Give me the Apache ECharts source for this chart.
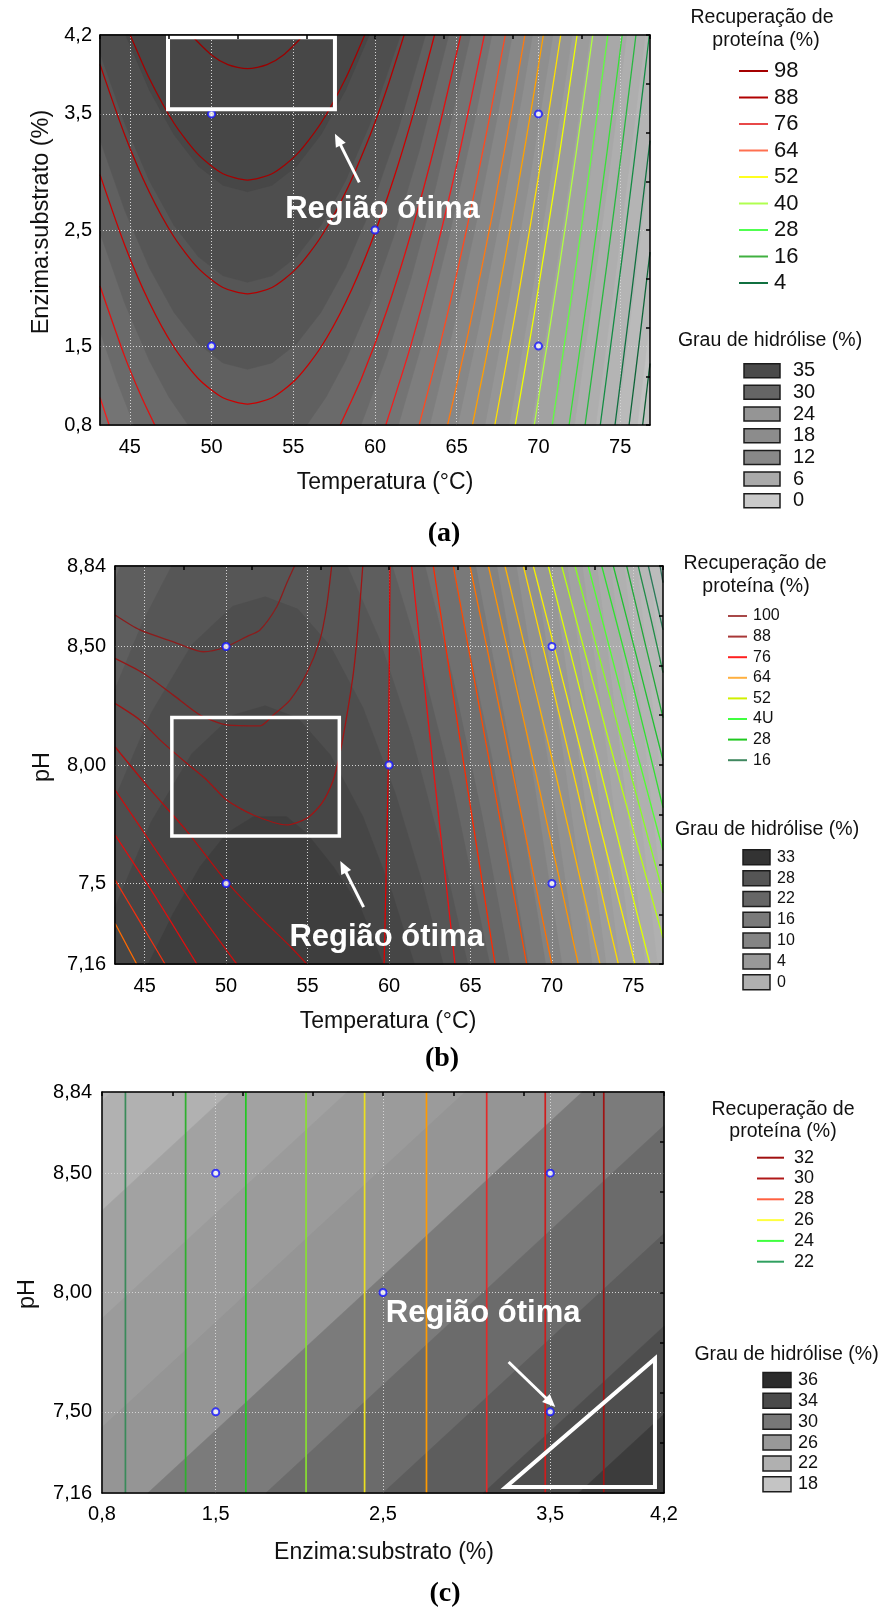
<!DOCTYPE html>
<html>
<head>
<meta charset="utf-8">
<script src="https://cdn.jsdelivr.net/npm/echarts@6/dist/echarts.min.js"></script>
<style>
  html, body { margin: 0; padding: 0; background: #fff; }
  #chart { width: 886px; height: 1621px; }
</style>
</head>
<body>
<div id="chart"></div>
<script>
// ================= DATA =================
// Axis ranges (coded levels ±1.68 of the central composite design)
const tempRange = [43.18, 76.82];
const esRange = [0.82, 4.18];
const phRange = [7.16, 8.84];

// Tick labels
const tempTicks = [45, 50, 55, 60, 65, 70, 75];
const tempTickText = ['45', '50', '55', '60', '65', '70', '75'];
const esTicks = [0.82, 1.5, 2.5, 3.5, 4.18];
const esTickText = ['0,8', '1,5', '2,5', '3,5', '4,2'];
const phTicks = [7.16, 7.5, 8.0, 8.5, 8.84];
const phTickTextB = ['7,16', '7,5', '8,00', '8,50', '8,84'];
const phTickTextC = ['7,16', '7,50', '8,00', '8,50', '8,84'];

// Grid line values
const tempGrid = [45, 50, 55, 60, 65, 70, 75];
const esGrid = [1.5, 2.5, 3.5];
const phGrid = [7.5, 8.0, 8.5];

// Experimental design points
const designA = [[50, 3.5], [70, 3.5], [60, 2.5], [50, 1.5], [70, 1.5]];
const designB = [[50, 8.5], [70, 8.5], [60, 8.0], [50, 7.5], [70, 7.5]];
const designC = [[1.5, 8.5], [3.5, 8.5], [2.5, 8.0], [1.5, 7.5], [3.5, 7.5]];

// Legend levels
const recLevelsA = ['98', '88', '76', '64', '52', '40', '28', '16', '4'];
const hydLevelsA = ['35', '30', '24', '18', '12', '6', '0'];
const recLevelsB = ['100', '88', '76', '64', '52', '4U', '28', '16'];
const hydLevelsB = ['33', '28', '22', '16', '10', '4', '0'];
const recLevelsC = ['32', '30', '28', '26', '24', '22'];
const hydLevelsC = ['36', '34', '30', '26', '22', '18'];

// (a) Protein recovery contours: [Temperatura, Enzima:substrato]
const recPiecesA = [
  [[48.75,4.18],[50.0,4.008],[51.0,3.925],[52.2,3.89],[53.4,3.925],[54.4,4.008],[55.65,4.18]],
  [[45.03,4.18],[46.2,3.805],[47.7,3.422],[49.2,3.149],[50.7,2.985],[52.2,2.93],[53.7,2.985],[55.2,3.149],[56.7,3.422],[58.2,3.805],[59.37,4.18]],
  [[43.18,3.927],[44.7,3.317],[46.2,2.825],[47.7,2.442],[49.2,2.169],[50.7,2.005],[52.2,1.95],[53.7,2.005],[55.2,2.169],[56.7,2.442],[58.2,2.825],[59.7,3.317],[60.7,3.706],[61.78,4.18]],
  [[43.18,2.977],[44.7,2.367],[46.2,1.875],[47.7,1.492],[49.2,1.219],[50.7,1.055],[52.2,1.0],[53.7,1.055],[55.2,1.219],[56.7,1.492],[58.2,1.875],[59.7,2.367],[61.2,2.968],[62.5,3.578],[63.64,4.18]],
  [[43.18,2.017],[44.7,1.407],[45.7,1.067],[46.53,0.82]],
  [[57.87,0.82],[59.2,1.231],[60.7,1.796],[62.2,2.47],[63.7,3.254],[65.25,4.18]],
  [[43.18,1.057],[43.74,0.82]],
  [[60.66,0.82],[62.2,1.51],[63.7,2.294],[65.2,3.187],[66.69,4.18]],
  [[62.7,0.82],[64.2,1.639],[65.7,2.569],[67.0,3.463],[67.97,4.18]],
  [[64.44,0.82],[65.7,1.609],[67.2,2.648],[68.4,3.557],[69.17,4.18]],
  [[65.96,0.82],[67.2,1.688],[68.7,2.836],[69.7,3.66],[70.3,4.18]],
  [[67.33,0.82],[68.7,1.876],[70.2,3.133],[71.36,4.18]],
  [[68.58,0.82],[69.7,1.742],[71.2,3.072],[72.36,4.18]],
  [[69.74,0.82],[71.2,2.112],[72.3,3.16],[73.32,4.18]],
  [[70.84,0.82],[72.2,2.1],[73.3,3.2],[74.24,4.18]],
  [[71.87,0.82],[73.2,2.136],[74.2,3.18],[75.12,4.18]],
  [[72.85,0.82],[74.2,2.221],[75.1,3.2],[75.96,4.18]],
  [[73.78,0.82],[75.2,2.355],[76.0,3.26],[76.78,4.18]],
  [[74.68,0.82],[75.7,1.96],[76.82,3.27]],
  [[75.54,0.82],[76.2,1.577],[76.82,2.31]],
  [[76.37,0.82],[76.82,1.35]]
];
const recLevelOfPieceA = [0,1,2,3,4,4,5,5,6,7,8,9,10,11,12,13,14,15,16,17,18];

// (a) Degree of hydrolysis band boundaries (inner to outer)
const hydBoundsA = [
  [[44.75,4.18],[46.2,3.705],[47.7,3.322],[49.2,3.049],[50.7,2.885],[52.2,2.83],[53.7,2.885],[55.2,3.049],[56.7,3.322],[58.2,3.705],[59.65,4.18]],
  [[43.18,4.027],[44.7,3.417],[46.2,2.925],[47.7,2.542],[49.2,2.269],[50.7,2.105],[52.2,2.05],[53.7,2.105],[55.2,2.269],[56.7,2.542],[58.2,2.925],[59.7,3.417],[61.56,4.18]],
  [[43.18,3.277],[44.7,2.667],[46.2,2.175],[47.7,1.792],[49.2,1.519],[50.7,1.355],[52.2,1.3],[53.7,1.355],[55.2,1.519],[56.7,1.792],[58.2,2.175],[59.7,2.667],[61.4,3.357],[63.09,4.18]],
  [[43.18,2.477],[44.7,1.867],[46.2,1.375],[47.4,1.06],[48.57,0.82],[55.83,0.82],[57.0,1.06],[58.2,1.375],[59.7,1.867],[61.2,2.468],[62.7,3.179],[64.51,4.18]],
  [[43.18,1.627],[44.2,1.205],[45.26,0.82],[59.14,0.82],[60.7,1.406],[62.2,2.08],[63.7,2.864],[65.85,4.18]],
  [[61.43,0.82],[63.0,1.584],[64.5,2.426],[66.0,3.378],[67.15,4.18]],
  [[63.35,0.82],[64.8,1.658],[66.3,2.631],[67.4,3.414],[68.4,4.18]],
  [[65.06,0.82],[66.4,1.7],[67.8,2.714],[69.0,3.658],[69.63,4.18]],
  [[66.72,0.82],[68.2,1.921],[69.5,2.973],[70.88,4.18]],
  [[68.2,0.82],[69.6,1.957],[70.9,3.098],[72.06,4.18]],
  [[69.56,0.82],[70.9,2.0],[72.1,3.123],[73.16,4.18]],
  [[70.92,0.82],[72.2,2.02],[73.4,3.222],[74.31,4.18]],
  [[72.2,0.82],[73.4,2.022],[74.5,3.184],[75.4,4.18]],
  [[73.5,0.82],[74.7,2.102],[75.7,3.22],[76.53,4.18]],
  [[74.81,0.82],[75.9,2.05],[76.82,3.13]],
  [[76.05,0.82],[76.82,1.73]]
];

// (b) Protein recovery contours: [Temperatura, pH]
const recPiecesB = [
  [[43.18,8.633],[44.71,8.57],[46.76,8.52],[48.6,8.478],[49.93,8.497],[51.27,8.542],[52.08,8.57],[53.11,8.668],[53.72,8.767],[54.2,8.84]],
  [[43.18,8.45],[44.92,8.387],[46.76,8.295],[48.4,8.211],[50.04,8.169],[52.08,8.165],[52.9,8.211],[53.92,8.274],[54.95,8.387],[55.76,8.528],[56.17,8.668],[56.48,8.84]],
  [[43.18,8.26],[44.71,8.19],[45.94,8.106],[47.58,8.007],[48.81,7.937],[50.04,7.852],[51.67,7.789],[53.72,7.747],[54.95,7.775],[55.87,7.838],[56.58,7.937],[56.99,8.049],[57.4,8.204],[57.81,8.387],[58.12,8.598],[58.39,8.84]],
  [[43.18,8.077],[45.3,7.9],[47.6,7.72],[50.0,7.51],[52.2,7.35],[54.0,7.23],[54.95,7.16]],
  [[43.18,7.895],[45.5,7.66],[48.0,7.41],[50.65,7.16]],
  [[43.18,7.705],[45.53,7.458],[48.2,7.16]],
  [[43.18,7.515],[44.7,7.34],[46.25,7.16]],
  [[43.18,7.332],[44.51,7.16]],
  [[60.06,8.84],[59.96,8.0],[59.7,7.16]],
  [[61.39,8.84],[62.7,8.0],[64.05,7.16]],
  [[62.72,8.84],[64.6,8.0],[66.51,7.16]],
  [[63.95,8.84],[66.2,8.0],[68.45,7.16]],
  [[64.97,8.84],[67.5,8.0],[69.99,7.16]],
  [[66.1,8.84],[68.9,8.0],[71.62,7.16]],
  [[67.12,8.84],[70.1,8.0],[72.95,7.16]],
  [[68.25,8.84],[71.2,8.0],[74.08,7.16]],
  [[68.86,8.84],[72.0,8.0],[75.1,7.16]],
  [[69.78,8.84],[72.9,8.0],[76.02,7.16]],
  [[70.6,8.84],[73.9,8.0],[76.82,7.27]],
  [[71.42,8.84],[74.3,8.1],[76.82,7.46]],
  [[72.23,8.84],[74.5,8.24],[76.82,7.64]],
  [[73.06,8.84],[75.0,8.33],[76.82,7.82]],
  [[73.77,8.84],[75.3,8.43],[76.82,8.02]],
  [[74.59,8.84],[75.7,8.52],[76.82,8.2]],
  [[75.3,8.84],[76.1,8.61],[76.82,8.39]],
  [[75.92,8.84],[76.82,8.57]],
  [[76.64,8.84],[76.82,8.77]]
];

// (b) Degree of hydrolysis band boundaries (inner to outer)
const hydBoundsB = [
  [[45.22,7.16],[46.76,7.374],[48.4,7.571],[50.04,7.712],[51.67,7.782],[53.72,7.782],[54.95,7.712],[56.58,7.571],[58.22,7.402],[59.65,7.16]],
  [[43.18,7.4],[45.4,7.76],[47.9,8.048],[50.4,8.21],[52.4,8.25],[54.4,8.198],[56.4,8.042],[58.4,7.782],[60.2,7.459],[61.56,7.16]],
  [[43.18,7.86],[45.4,8.22],[47.9,8.508],[50.4,8.67],[52.4,8.71],[54.4,8.658],[56.4,8.502],[58.4,8.242],[60.4,7.878],[61.9,7.537],[63.32,7.16]],
  [[43.18,8.32],[44.9,8.607],[46.66,8.84],[57.44,8.84],[59.4,8.533],[61.4,8.117],[63.4,7.597],[64.83,7.16]],
  [[43.18,8.78],[43.51,8.84],[60.2,8.84],[61.9,8.457],[63.9,7.911],[66.18,7.16]],
  [[62.21,8.84],[63.9,8.371],[65.7,7.79],[67.41,7.16]],
  [[63.87,8.84],[66.3,8.038],[67.5,7.586],[68.55,7.16]],
  [[65.32,8.84],[67.5,8.046],[69.61,7.16]],
  [[66.62,8.84],[68.7,8.016],[70.61,7.16]],
  [[67.82,8.84],[69.8,7.994],[71.56,7.16]],
  [[68.93,8.84],[70.8,7.989],[72.46,7.16]],
  [[69.96,8.84],[71.7,8.008],[73.32,7.16]],
  [[70.94,8.84],[72.6,8.0],[74.15,7.16]],
  [[71.87,8.84],[73.45,8.01],[74.95,7.16]],
  [[72.76,8.84],[74.3,7.995],[75.72,7.16]],
  [[73.61,8.84],[75.1,7.99],[76.47,7.16]],
  [[74.43,8.84],[75.7,8.09],[76.82,7.4]],
  [[75.22,8.84],[76.82,7.86]],
  [[75.98,8.84],[76.82,8.32]]
];

// (c) Protein recovery: Enzima:substrato value of each (vertical) contour
const recPosC = [0.96, 1.32, 1.68, 2.04, 2.39, 2.76, 3.12, 3.47, 3.82];

// (c) Degree of hydrolysis band boundaries: [Enzima:substrato, pH] (inner to outer)
const hydBoundsC = [
  [[3.67,7.16],[4.18,7.49]],
  [[3.1,7.16],[4.18,7.859]],
  [[2.5,7.16],[4.18,8.247]],
  [[1.8,7.16],[4.18,8.7]],
  [[1.094,7.16],[3.691,8.84]],
  [[0.82,7.435],[2.991,8.84]],
  [[0.82,7.891],[2.287,8.84]],
  [[0.82,8.344],[1.587,8.84]],
  [[0.82,8.803],[0.877,8.84]]
];

// ================= STYLE =================
const FONT = '"Liberation Sans", Arial, sans-serif';
const NARROW = '"Liberation Sans Narrow", "Liberation Sans", Arial, sans-serif';

const recColorsA = ['#9a0000','#a50000','#b40000','#cc0000','#e21010','#f41c1c','#ff4a20','#ff7a10','#ffa000',
  '#ffe000','#f0ff00','#b0ff40','#60ff40','#38e038','#28b840','#148c44','#107040','#0e6438','#0c5a32'];
const recColorsB = ['#8c1c1c','#941818','#a01414','#b41010','#c81010','#dc1010','#f03010','#ff6a00',
  '#e00000','#f01010','#ff2a00','#ff4a00','#ff7000','#ff9400','#ffb400','#ffd800','#f8f000','#e0ff00',
  '#b8ff10','#88ff20','#50ff30','#30e030','#20c030','#20a838','#208c48','#2a7a58','#306a58'];
const recColorsC = ['#3a8a5a','#2eb02e','#22c822','#88e030','#ece020','#ff9a00','#e42a2a','#d01c1c','#a01414'];

const hydShadesA = ['#474747','#4e4e4e','#565656','#606060','#6a6a6a','#747474','#7e7e7e','#878787','#8f8f8f',
  '#969696','#9c9c9c','#a2a2a2','#a8a8a8','#aeaeae','#b4b4b4','#bababa'];
const hydBaseA = '#c2c2c2';
const hydShadesB = ['#3e3e3e','#464646','#4e4e4e','#565656','#5e5e5e','#676767','#707070','#797979','#828282',
  '#8a8a8a','#919191','#979797','#9d9d9d','#a2a2a2','#a7a7a7','#acacac','#b0b0b0','#b4b4b4','#b8b8b8'];
const hydBaseB = '#bcbcbc';
const hydShadesC = ['#3c3c3c','#4e4e4e','#5d5d5d','#6b6b6b','#7b7b7b','#959595','#9b9b9b','#a2a2a2','#b1b1b1'];
const hydBaseC = '#b9b9b9';

const legRecColorsA = ['#a50000','#b00000','#e84848','#ff7050','#ffff20','#b0ff50','#50ff50','#40b040','#107040'];
const legHydColorsA = ['#4a4a4a','#656565','#959595','#8c8c8c','#888888','#aaaaaa','#cacaca'];
const legRecColorsB = ['#a84848','#a83838','#ff2020','#ffb040','#d0f000','#40ff40','#20c820','#408860'];
const legHydColorsB = ['#333333','#555555','#666666','#7a7a7a','#848484','#999999','#b0b0b0'];
const legRecColorsC = ['#a01010','#b01818','#ff6040','#ffff40','#40ff40','#30a060'];
const legHydColorsC = ['#2b2b2b','#4a4a4a','#777777','#999999','#b0b0b0','#c4c4c4'];

// Annotation geometry (data units)
const annotA = { shape: [[47.34,3.54],[57.55,3.54],[57.55,4.16],[47.34,4.16]], arrow: [[59.04,2.91],[57.55,3.33]], label: [60.46,2.68], lw: 4 };
const annotB = { shape: [[46.67,7.70],[56.95,7.70],[56.95,8.20],[46.67,8.20]], arrow: [[58.44,7.40],[57.01,7.595]], label: [59.86,7.27], lw: 3.5 };
const annotC = { shape: [[3.235,7.185],[4.126,7.185],[4.126,7.723]], arrow: [[3.251,7.709],[3.53,7.52]], label: [3.099,7.912], lw: 4 };

// ================= BUILD =================
const chart = echarts.init(document.getElementById('chart'), null, { renderer: 'canvas', width: 886, height: 1621 });

const EXT = [
  { x0: tempRange[0], x1: tempRange[1], y0: esRange[0], y1: esRange[1] },
  { x0: tempRange[0], x1: tempRange[1], y0: phRange[0], y1: phRange[1] },
  { x0: esRange[0], x1: esRange[1], y0: phRange[0], y1: phRange[1] }
];

// Position of a border point along the plot frame, clockwise from the top-left corner
function perimPos(p, e) {
  const tol = 1e-6, w = e.x1 - e.x0, h = e.y1 - e.y0;
  if (Math.abs(p[1] - e.y1) < tol) return (p[0] - e.x0) / w;
  if (Math.abs(p[0] - e.x1) < tol) return 1 + (e.y1 - p[1]) / h;
  if (Math.abs(p[1] - e.y0) < tol) return 2 + (e.x1 - p[0]) / w;
  return 3 + (p[1] - e.y0) / h;
}
// Close a boundary curve into a region by walking the frame from its end back to its start
function closeRegion(pts, e, dir) {
  const corners = [[e.x0, e.y1], [e.x1, e.y1], [e.x1, e.y0], [e.x0, e.y0]];
  const s = perimPos(pts[pts.length - 1], e);
  let t = perimPos(pts[0], e);
  const out = pts.slice();
  if (dir === 'cw') {
    if (t <= s) t += 4;
    for (let c = Math.floor(s) + 1; c < t; c++) out.push(corners[c % 4]);
  } else {
    if (t >= s) t -= 4;
    for (let c = Math.ceil(s) - 1; c > t; c--) out.push(corners[((c % 4) + 4) % 4]);
  }
  return out;
}

// Filled bands: base colour, then nested regions from the outermost to the innermost
function bandSeries(gi, bounds, shades, base, dir) {
  const e = EXT[gi];
  const polys = [[[e.x0, e.y0], [e.x1, e.y0], [e.x1, e.y1], [e.x0, e.y1]]];
  const fills = [base];
  for (let i = bounds.length - 1; i >= 0; i--) {
    polys.push(closeRegion(bounds[i], e, dir));
    fills.push(shades[i]);
  }
  return {
    type: 'custom', xAxisIndex: gi, yAxisIndex: gi, z: 1, silent: true, animation: false,
    data: polys.map(() => [e.x0, e.y0]), encode: { x: 0, y: 1 },
    renderItem: (params, api) => ({
      type: 'polygon', z2: params.dataIndex,
      shape: { points: polys[params.dataIndex].map(p => api.coord(p)) },
      style: { fill: fills[params.dataIndex], stroke: fills[params.dataIndex], lineWidth: 0.5 }
    })
  };
}

function gridSeries(gi, xs, ys) {
  const e = EXT[gi];
  const segs = xs.map(x => ({ coords: [[x, e.y0], [x, e.y1]] }))
    .concat(ys.map(y => ({ coords: [[e.x0, y], [e.x1, y]] })));
  return {
    type: 'lines', coordinateSystem: 'cartesian2d', xAxisIndex: gi, yAxisIndex: gi,
    z: 2, silent: true, animation: false, data: segs,
    lineStyle: { color: '#d4d4d4', width: 1, type: [1, 2], opacity: 1, curveness: 0 }
  };
}

function contourSeries(gi, pts, color, width) {
  return {
    type: 'line', xAxisIndex: gi, yAxisIndex: gi, data: pts, showSymbol: false, symbol: 'none',
    smooth: 0.25, clip: true, silent: true, animation: false, z: 3,
    lineStyle: { color: color, width: width || 1.3 }
  };
}

function dotSeries(gi, pts) {
  return {
    type: 'scatter', xAxisIndex: gi, yAxisIndex: gi, data: pts, symbol: 'circle', symbolSize: 7,
    itemStyle: { color: '#ffffff', borderColor: '#1414ff', borderWidth: 2 }, z: 5, silent: true, animation: false
  };
}

function annotSeries(gi, an) {
  return {
    type: 'custom', xAxisIndex: gi, yAxisIndex: gi, z: 6, silent: true, animation: false,
    data: [an.label], encode: { x: 0, y: 1 },
    renderItem: (params, api) => {
      const shape = an.shape.map(p => api.coord(p));
      const a0 = api.coord(an.arrow[0]), a1 = api.coord(an.arrow[1]);
      const dx = a1[0] - a0[0], dy = a1[1] - a0[1], L = Math.hypot(dx, dy);
      const ux = dx / L, uy = dy / L, hl = 13, hw = 5.5;
      const b = [a1[0] - ux * hl, a1[1] - uy * hl];
      const head = [a1, [b[0] - uy * hw, b[1] + ux * hw], [b[0] + uy * hw, b[1] - ux * hw]];
      const lp = api.coord(an.label);
      return {
        type: 'group', children: [
          { type: 'polygon', shape: { points: shape }, style: { fill: 'none', stroke: '#ffffff', lineWidth: an.lw, lineJoin: 'miter' } },
          { type: 'line', shape: { x1: a0[0], y1: a0[1], x2: b[0] + ux, y2: b[1] + uy }, style: { stroke: '#ffffff', lineWidth: 3 } },
          { type: 'polygon', shape: { points: head }, style: { fill: '#ffffff' } },
          { type: 'text', style: { text: 'Região ótima', x: lp[0], y: lp[1], fill: '#ffffff',
              font: 'bold 31px ' + FONT, align: 'center', verticalAlign: 'middle',
              textAlign: 'center', textVerticalAlign: 'middle' } }
        ]
      };
    }
  };
}

function fmt(ticks, texts) {
  return v => {
    for (let i = 0; i < ticks.length; i++) if (Math.abs(ticks[i] - v) < 1e-6) return texts[i];
    return '';
  };
}
const frameLine = { show: true, onZero: false, lineStyle: { color: '#000', width: 1.5 } };
function mainX(gi, ticks, texts, margin) {
  const e = EXT[gi];
  return { type: 'value', gridIndex: gi, min: e.x0, max: e.x1, position: 'bottom', z: 10,
    axisLine: frameLine, axisTick: { show: false }, splitLine: { show: false },
    axisLabel: { customValues: ticks, formatter: fmt(ticks, texts), color: '#000', fontSize: 20,
      fontFamily: FONT, margin: margin, hideOverlap: false } };
}
function mainY(gi, ticks, texts, margin) {
  const e = EXT[gi];
  return { type: 'value', gridIndex: gi, min: e.y0, max: e.y1, position: 'left', z: 10,
    axisLine: frameLine, axisTick: { show: false }, splitLine: { show: false },
    axisLabel: { customValues: ticks, formatter: fmt(ticks, texts), color: '#000', fontSize: 20,
      fontFamily: FONT, margin: margin, hideOverlap: false } };
}
function topX(gi) {
  const e = EXT[gi];
  return { type: 'value', gridIndex: gi, min: e.x0, max: e.x1, interval: (e.x1 - e.x0) / 8, position: 'top', z: 10,
    axisLine: frameLine, axisTick: { show: true, inside: true, length: 4, lineStyle: { color: '#000', width: 1.5 } },
    axisLabel: { show: false }, splitLine: { show: false } };
}
function rightY(gi) {
  const e = EXT[gi];
  return { type: 'value', gridIndex: gi, min: e.y0, max: e.y1, interval: (e.y1 - e.y0) / 8, position: 'right', z: 10,
    axisLine: frameLine, axisTick: { show: true, inside: true, length: 4, lineStyle: { color: '#000', width: 1.5 } },
    axisLabel: { show: false }, splitLine: { show: false } };
}

const series = [];
// bands
series.push(bandSeries(0, hydBoundsA, hydShadesA, hydBaseA, 'ccw'));
series.push(bandSeries(1, hydBoundsB, hydShadesB, hydBaseB, 'cw'));
series.push(bandSeries(2, hydBoundsC, hydShadesC, hydBaseC, 'cw'));
// grid lines
series.push(gridSeries(0, tempGrid, esGrid));
series.push(gridSeries(1, tempGrid, phGrid));
series.push(gridSeries(2, esGrid, phGrid));
// contour lines
recPiecesA.forEach((pts, i) => series.push(contourSeries(0, pts, recColorsA[recLevelOfPieceA[i]])));
recPiecesB.forEach((pts, i) => series.push(contourSeries(1, pts, recColorsB[i])));
recPosC.forEach((x, i) => series.push(contourSeries(2, [[x, EXT[2].y0], [x, EXT[2].y1]], recColorsC[i], 1.7)));
// design points
series.push(dotSeries(0, designA));
series.push(dotSeries(1, designB));
series.push(dotSeries(2, designC));
// annotations
series.push(annotSeries(0, annotA));
series.push(annotSeries(1, annotB));
series.push(annotSeries(2, annotC));

// ---------- text & legends ----------
function txt(text, x, y, font, opt) {
  opt = opt || {};
  const al = opt.align || 'center';
  return { type: 'text', x: x, y: y, rotation: opt.rot || 0, silent: true, z: 20,
    style: { text: text, font: font, fill: opt.fill || '#111', align: al, verticalAlign: 'middle',
      textAlign: al, textVerticalAlign: 'middle' } };
}
function legend(cfg) {
  const els = [];
  els.push(txt('Recuperação de', cfg.t1[0], cfg.t1[1], '19.5px ' + FONT));
  els.push(txt('proteína (%)', cfg.t2[0], cfg.t2[1], '19.5px ' + FONT));
  cfg.recLevels.forEach((lv, i) => {
    const y = cfg.ly0 + i * cfg.ldy;
    els.push({ type: 'line', silent: true, z: 20, shape: { x1: cfg.lx1, y1: y, x2: cfg.lx2, y2: y },
      style: { stroke: cfg.recColors[i], lineWidth: 2 } });
    els.push(txt(lv, cfg.lxt, y, cfg.lfont, { align: 'left' }));
  });
  els.push(txt('Grau de hidrólise (%)', cfg.t3[0], cfg.t3[1], '19.5px ' + FONT));
  cfg.hydLevels.forEach((lv, i) => {
    const y = cfg.by0 + i * cfg.bdy;
    els.push({ type: 'rect', silent: true, z: 20, shape: { x: cfg.bx, y: y - cfg.bh / 2, width: cfg.bw, height: cfg.bh },
      style: { fill: cfg.hydColors[i], stroke: '#1c1c1c', lineWidth: 1.5 } });
    els.push(txt(lv, cfg.bxt, y, cfg.bfont, { align: 'left' }));
  });
  return els;
}

const graphics = [].concat(
  legend({ t1: [762, 18], t2: [766, 41], recLevels: recLevelsA, recColors: legRecColorsA,
    ly0: 71, ldy: 26.5, lx1: 739, lx2: 768, lxt: 774, lfont: '22px ' + FONT,
    t3: [770, 341], hydLevels: hydLevelsA, hydColors: legHydColorsA,
    by0: 370.7, bdy: 21.67, bx: 744, bw: 36, bh: 14, bxt: 793, bfont: '20px ' + FONT }),
  legend({ t1: [755, 564], t2: [756, 587], recLevels: recLevelsB, recColors: legRecColorsB,
    ly0: 616, ldy: 20.6, lx1: 728, lx2: 747, lxt: 753, lfont: '16px ' + NARROW,
    t3: [767, 829.5], hydLevels: hydLevelsB, hydColors: legHydColorsB,
    by0: 857.3, bdy: 20.83, bx: 743, bw: 27, bh: 15, bxt: 777, bfont: '16px ' + NARROW }),
  legend({ t1: [783, 1109.5], t2: [783, 1132], recLevels: recLevelsC, recColors: legRecColorsC,
    ly0: 1157.7, ldy: 20.8, lx1: 757, lx2: 784, lxt: 794, lfont: '18px ' + FONT,
    t3: [786.5, 1355], hydLevels: hydLevelsC, hydColors: legHydColorsC,
    by0: 1380, bdy: 20.87, bx: 763, bw: 28, bh: 15, bxt: 798, bfont: '18px ' + FONT }),
  [
    txt('Enzima:substrato (%)', 42, 222, '23.5px ' + FONT, { rot: Math.PI / 2 }),
    txt('Temperatura (°C)', 385, 483, '23px ' + FONT),
    txt('(a)', 444, 534, 'bold 28px "Liberation Serif", "Times New Roman", serif', { fill: '#000' }),
    txt('pH', 42.5, 767, '23.5px ' + FONT, { rot: Math.PI / 2 }),
    txt('Temperatura (°C)', 388, 1021.7, '23px ' + FONT),
    txt('(b)', 442, 1059, 'bold 28px "Liberation Serif", "Times New Roman", serif', { fill: '#000' }),
    txt('pH', 27.5, 1294, '23.5px ' + FONT, { rot: Math.PI / 2 }),
    txt('Enzima:substrato (%)', 384, 1553, '23px ' + FONT),
    txt('(c)', 445, 1594, 'bold 28px "Liberation Serif", "Times New Roman", serif', { fill: '#000' })
  ]
);

const option = {
  animation: false,
  backgroundColor: '#ffffff',
  grid: [
    { left: 100, top: 35, width: 550, height: 390 },
    { left: 115, top: 566, width: 548, height: 398 },
    { left: 102, top: 1092, width: 562, height: 401 }
  ],
  xAxis: [
    mainX(0, tempTicks, tempTickText, 12),
    mainX(1, tempTicks, tempTickText, 12),
    mainX(2, esTicks, esTickText, 11),
    topX(0), topX(1), topX(2)
  ],
  yAxis: [
    mainY(0, esTicks, esTickText, 8),
    mainY(1, phTicks, phTickTextB, 9),
    mainY(2, phTicks, phTickTextC, 10),
    rightY(0), rightY(1), rightY(2)
  ],
  series: series,
  graphic: { elements: graphics }
};

chart.setOption(option);
</script>
</body>
</html>
